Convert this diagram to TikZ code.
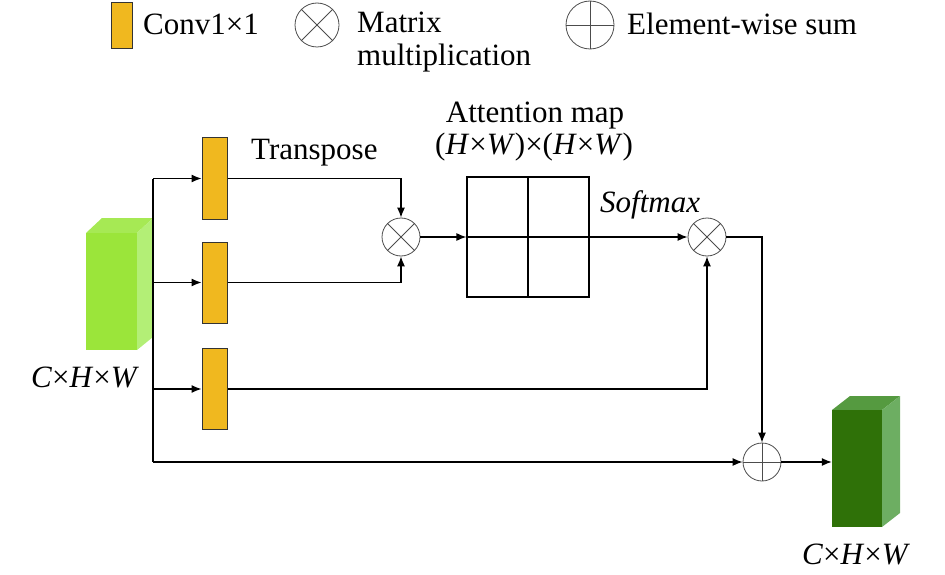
\documentclass[tikz,border=0pt]{standalone}
\usepackage{fontspec}
\newfontfamily\tnr{Liberation Serif}
\usetikzlibrary{arrows.meta}
\definecolor{conv}{HTML}{F0B81F}
\definecolor{gAfront}{HTML}{9BE53A}
\definecolor{gAtop}{HTML}{A6E954}
\definecolor{gAside}{HTML}{B3EF76}
\definecolor{gBfront}{HTML}{2F7108}
\definecolor{gBtop}{HTML}{559A40}
\definecolor{gBside}{HTML}{6DAE62}
\tikzset{
  txt/.style={inner sep=0pt, anchor=base west, font=\tnr\fontsize{31}{36}\selectfont},
  convbox/.style={draw=black!80, line width=1pt, fill=conv, minimum width=25pt, minimum height=81pt, inner sep=0pt},
  opcirc/.style={circle, draw=black!70, line width=0.8pt, minimum size=38pt, inner sep=0pt},
  line/.style={line width=1.2pt, draw=black},
  arr/.style={line, -{Latex[length=10pt,width=8pt]}},
}
\newcommand{\crossin}[1]{\draw[black!70, line width=0.8pt] (#1.45) -- (#1.225) (#1.135) -- (#1.315);}
\newcommand{\plusin}[1]{\draw[black!70, line width=0.8pt] (#1.north) -- (#1.south) (#1.east) -- (#1.west);}
\begin{document}
\begin{tikzpicture}[x=1pt,y=-1pt]
\useasboundingbox (0,0) rectangle (945,575);
% legend
\node[convbox, minimum width=21pt, minimum height=46pt] (lconv) at (121.5,26) {};
\node[txt] (lconvt) at (143,35) {Conv1×1};
\node[opcirc, minimum size=44pt] (lmul) at (317,25) {};
\crossin{lmul}
\node[txt] (lmult1) at (357,33) {Matrix};
\node[txt] (lmult2) at (357,66) {multiplication};
\node[opcirc, minimum size=48pt] (lsum) at (590,25) {};
\plusin{lsum}
\node[txt] (lsumt) at (627,35) {Element-wise sum};
% input cube
\fill[gAtop] (86,233) -- (102,218) -- (153,218) -- (137,233) -- cycle;
\fill[gAside] (137,233) -- (153,218) -- (153,337) -- (137,350) -- cycle;
\node[fill=gAfront, minimum width=51pt, minimum height=117pt, inner sep=0pt] (inA) at (111.5,291.5) {};
\node[txt] (inlab) at (31,387) {\textit{C}×\textit{H}×\textit{W}};
% output cube
\fill[gBtop] (832,410) -- (850,396) -- (900,396) -- (882,410) -- cycle;
\fill[gBside] (882,410) -- (900,396) -- (900,513) -- (882,527) -- cycle;
\node[fill=gBfront, minimum width=50pt, minimum height=117pt, inner sep=0pt] (outB) at (857,468.5) {};
\node[txt] (outlab) at (802,564) {\textit{C}×\textit{H}×\textit{W}};
% conv boxes
\node[convbox] (c1) at (214.5,178.5) {};
\node[convbox] (c2) at (214.5,282.5) {};
\node[convbox] (c3) at (214.5,389) {};
\node[txt] (tr) at (251,160) {Transpose};
% operators
\node[opcirc] (m1) at (401,237) {};
\crossin{m1}
\node[opcirc] (m2) at (707,237) {};
\crossin{m2}
\node[opcirc] (sum) at (762,462) {};
\plusin{sum}
% attention map
\node[draw=black, line width=1.2pt, minimum width=122pt, minimum height=120pt, inner sep=0pt] (att) at (528,237) {};
\draw[line] (att.north) -- (att.south) (att.west) -- (att.east);
\node[txt, anchor=base] (attl1) at (535,123) {Attention map};
\node[txt, anchor=base] (attl2) at (534,155) {(\textit{H}×\textit{W})×(\textit{H}×\textit{W})};
\node[txt] (soft) at (600,212) {\textit{Softmax}};
% connectors
\coordinate (vtop) at (153,178.5);
\coordinate (vbot) at (153,462);
\draw[line] (vtop) -- (vbot);
\draw[arr] (c1.west -| vtop) -- (c1.west);
\draw[arr] (c2.west -| vtop) -- (c2.west);
\draw[arr] (c3.west -| vtop) -- (c3.west);
\draw[arr] (vbot) -- (sum.west);
\draw[arr] (c1.east) -- (m1.north |- c1.east) -- (m1.north);
\draw[arr] (c2.east) -- (m1.south |- c2.east) -- (m1.south);
\draw[arr] (m1.east) -- (att.west);
\draw[arr] (att.east) -- (m2.west);
\draw[arr] (c3.east) -- (m2.south |- c3.east) -- (m2.south);
\draw[arr] (m2.east) -- (sum.north |- m2.east) -- (sum.north);
\draw[arr] (sum.east) -- (sum.east -| outB.west);
\end{tikzpicture}
\end{document}
